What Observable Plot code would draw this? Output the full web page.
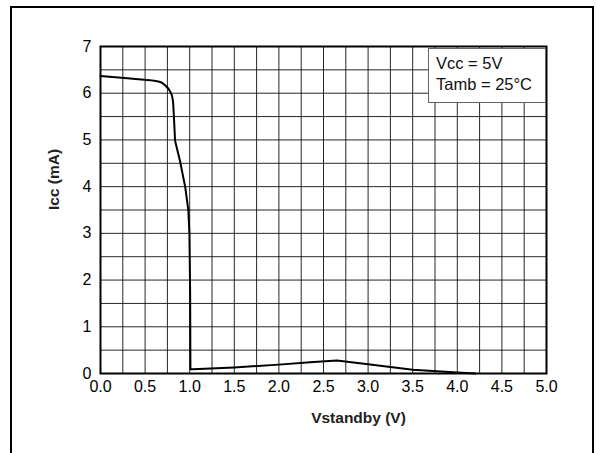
<!DOCTYPE html>
<html>
<head>
<meta charset="utf-8">
<script src="https://cdn.jsdelivr.net/npm/d3@7"></script>
<script src="https://cdn.jsdelivr.net/npm/@observablehq/plot@0.6"></script>
<style>
  html, body { margin: 0; padding: 0; background: #fff; }
  #wrap { position: relative; width: 597px; height: 453px; overflow: hidden; font-family: "Liberation Sans", Arial, sans-serif; }
  #outer { position: absolute; left: 10px; top: 6px; width: 584px; height: 470px; border: 2px solid #000; box-sizing: border-box; pointer-events: none; }
  #legend { position: absolute; left: 428px; top: 48px; width: 118px; height: 55px; box-sizing: border-box; border: 1px solid #666; background: #fff; font-size: 16.5px; line-height: 21px; padding: 4px 0 0 7px; color: #111; }
</style>
</head>
<body>
<div id="wrap">
  <div id="chart"></div>
  <div id="outer"></div>
  <div id="legend"></div>
</div>
<script>
const vstandby = [0, 0.3, 0.55, 0.62, 0.67, 0.70, 0.73, 0.76, 0.78, 0.80, 0.81, 0.815, 0.825, 0.836, 0.89, 0.95, 0.985, 0.997, 1.005, 1.008, 1.03, 1.5, 2.0, 2.35, 2.65, 3.0, 3.5, 4.0, 4.2];
const icc = [6.37, 6.32, 6.28, 6.26, 6.24, 6.21, 6.16, 6.10, 6.04, 5.96, 5.86, 5.78, 5.42, 4.98, 4.56, 3.99, 3.49, 2.99, 1.7, 0.09, 0.09, 0.13, 0.19, 0.24, 0.28, 0.2, 0.08, 0.02, 0];
const xTicks = [0, 0.5, 1, 1.5, 2, 2.5, 3, 3.5, 4, 4.5, 5];
const yTicks = [0, 1, 2, 3, 4, 5, 6, 7];
const xGrid = d3.range(0, 5.001, 0.25);
const yGrid = d3.range(0, 7.001, 0.5);
const xLabel = "Vstandby (V)";
const yLabel = "Icc (mA)";
const legendLines = ["Vcc = 5V", "Tamb = 25°C"];

const data = vstandby.map((v, i) => ({x: v, y: icc[i]}));

const chart = Plot.plot({
  width: 597,
  height: 453,
  marginLeft: 100,
  marginRight: 51,
  marginTop: 46,
  marginBottom: 80,
  style: {fontFamily: "'Liberation Sans', Arial, sans-serif", background: "#fff", color: "#000"},
  x: {domain: [0, 5]},
  y: {domain: [0, 7]},
  marks: [
    Plot.gridX(xGrid, {stroke: "#000", strokeOpacity: 0.85, strokeWidth: 1}),
    Plot.gridY(yGrid, {stroke: "#000", strokeOpacity: 0.85, strokeWidth: 1}),
    Plot.axisX(xTicks, {tickSize: 0, tickPadding: 7, tickFormat: d3.format(".1f"), fontSize: 16, label: null, fill: "#000"}),
    Plot.axisY(yTicks, {tickSize: 0, tickPadding: 9, fontSize: 16, label: null, fill: "#000"}),
    Plot.line(data, {x: "x", y: "y", stroke: "#000", strokeWidth: 2, strokeLinejoin: "round"}),
    Plot.frame({stroke: "#000", strokeWidth: 2}),
    Plot.text([xLabel], {text: d => d, frameAnchor: "bottom", dx: 35, dy: 49, fontSize: 15.5, fontWeight: "bold", fill: "#222"}),
    Plot.text([yLabel], {text: d => d, frameAnchor: "left", rotate: -90, dx: -46, fontSize: 15.5, fontWeight: "bold", fill: "#222"})
  ]
});
document.getElementById("chart").appendChild(chart);
document.getElementById("legend").innerHTML = legendLines.map(s => `<div>${s}</div>`).join("");
</script>
</body>
</html>
